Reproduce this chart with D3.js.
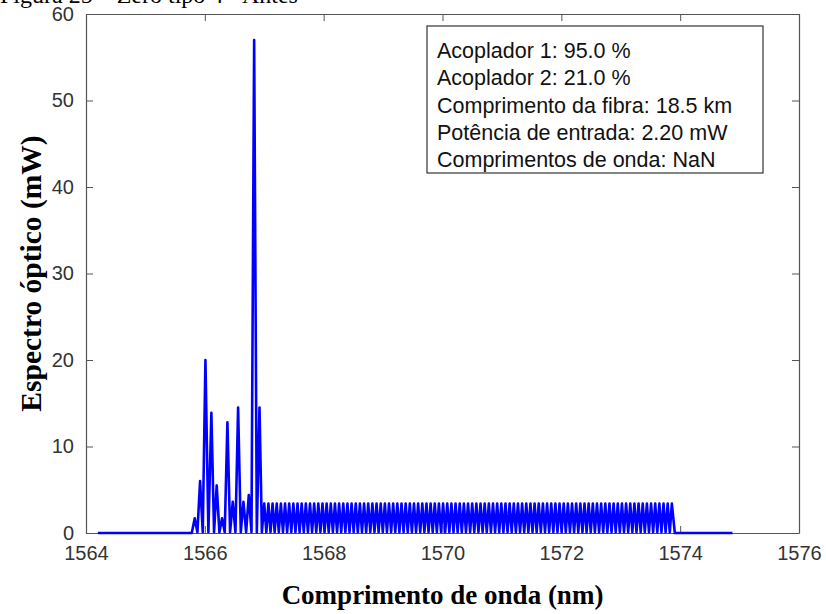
<!DOCTYPE html>
<html>
<head>
<meta charset="utf-8">
<script src="https://cdn.jsdelivr.net/npm/d3@7"></script>
<style>
  html, body { margin: 0; padding: 0; background: #fff; }
  svg { display: block; }
</style>
</head>
<body>
<svg id="chart" width="826" height="614"></svg>
<script>
// Axis ticks
const xTicks = [1564, 1566, 1568, 1570, 1572, 1574, 1576];
const yTicks = [0, 10, 20, 30, 40, 50, 60];

// Flat baseline ends of the spectrum (nm)
const baseStartWl = 1564.2;
const baseEndWl = 1574.88;
const baseMw = 0;

// Strong lines around the pump region
const clusterWl = [1565.83, 1565.92, 1566.01, 1566.11, 1566.20, 1566.29, 1566.38,
                   1566.47, 1566.56, 1566.65, 1566.74, 1566.83, 1566.92];
const clusterMw = [1.7, 6.0, 20.0, 13.9, 5.5, 1.7, 12.8, 3.6, 14.5, 3.6, 4.4, 57.0, 14.5];

// Flat comb of lines up to ~1573.9 nm
const combWl = [
  1567.00, 1567.07, 1567.14, 1567.21, 1567.28, 1567.35, 1567.42, 1567.49, 1567.56, 1567.63,
  1567.70, 1567.77, 1567.84, 1567.91, 1567.98, 1568.05, 1568.12, 1568.19, 1568.26, 1568.33,
  1568.40, 1568.47, 1568.54, 1568.61, 1568.68, 1568.75, 1568.82, 1568.89, 1568.96, 1569.03,
  1569.10, 1569.17, 1569.24, 1569.31, 1569.38, 1569.45, 1569.52, 1569.59, 1569.66, 1569.73,
  1569.80, 1569.87, 1569.94, 1570.01, 1570.08, 1570.15, 1570.22, 1570.29, 1570.36, 1570.43,
  1570.50, 1570.57, 1570.64, 1570.71, 1570.78, 1570.85, 1570.92, 1570.99, 1571.06, 1571.13,
  1571.20, 1571.27, 1571.34, 1571.41, 1571.48, 1571.55, 1571.62, 1571.69, 1571.76, 1571.83,
  1571.90, 1571.97, 1572.04, 1572.11, 1572.18, 1572.25, 1572.32, 1572.39, 1572.46, 1572.53,
  1572.60, 1572.67, 1572.74, 1572.81, 1572.88, 1572.95, 1573.02, 1573.09, 1573.16, 1573.23,
  1573.30, 1573.37, 1573.44, 1573.51, 1573.58, 1573.65, 1573.72, 1573.79, 1573.86
];
const combMw = 3.4;
const troughMw = 0.1;

// Parameter box text
const infoLines = [
  "Acoplador 1: 95.0 %",
  "Acoplador 2: 21.0 %",
  "Comprimento da fibra: 18.5 km",
  "Potência de entrada: 2.20 mW",
  "Comprimentos de onda: NaN"
];

// Build the trace: baseline, each line with a trough between neighbours, baseline
const lines = clusterWl.map((w, i) => ({ wl: w, mw: clusterMw[i] }))
  .concat(combWl.map(w => ({ wl: w, mw: combMw })));
const trace = [{ wl: baseStartWl, mw: baseMw }];
trace.push({ wl: lines[0].wl - 0.05, mw: baseMw });
lines.forEach((p, i) => {
  if (i > 0) {
    const prev = lines[i - 1];
    trace.push({ wl: (prev.wl + p.wl) / 2, mw: troughMw });
  }
  trace.push(p);
});
trace.push({ wl: lines[lines.length - 1].wl + 0.05, mw: baseMw });
trace.push({ wl: baseEndWl, mw: baseMw });

const svg = d3.select("#chart");
const L = 86, R = 799, T = 14, B = 533;

const x = d3.scaleLinear().domain([1564, 1576]).range([L, R]);
const y = d3.scaleLinear().domain([0, 60]).range([B, T]);

const axisColor = "#555";
const tickFont = "'Liberation Sans', Arial, sans-serif";
const serif = "'Liberation Serif', 'Times New Roman', serif";

// Caption line running off the top edge
svg.append("text")
  .attr("x", 0).attr("y", 3)
  .attr("font-family", serif)
  .attr("font-size", 24)
  .attr("fill", "#000")
  .text("Figura 25 – Zero tipo 4 - Antes");

// Bottom axis
const gx = svg.append("g").attr("transform", `translate(0,${B})`)
  .call(d3.axisBottom(x).tickValues(xTicks).tickFormat(d3.format("d"))
    .tickSizeInner(-7).tickSizeOuter(0).tickPadding(13));
// Top axis (ticks only)
const gxt = svg.append("g").attr("transform", `translate(0,${T})`)
  .call(d3.axisTop(x).tickValues(xTicks).tickFormat("")
    .tickSizeInner(-7).tickSizeOuter(0));
// Left axis
const gy = svg.append("g").attr("transform", `translate(${L},0)`)
  .call(d3.axisLeft(y).tickValues(yTicks).tickFormat(d3.format("d"))
    .tickSizeInner(-7).tickSizeOuter(0).tickPadding(12));
// Right axis (ticks only)
const gyr = svg.append("g").attr("transform", `translate(${R},0)`)
  .call(d3.axisRight(y).tickValues(yTicks).tickFormat("")
    .tickSizeInner(-7).tickSizeOuter(0));

[gx, gxt, gy, gyr].forEach(g => {
  g.select(".domain").attr("stroke", axisColor).attr("stroke-width", 1.2);
  g.selectAll(".tick line").attr("stroke", axisColor).attr("stroke-width", 1);
  g.selectAll(".tick text")
    .attr("font-family", tickFont)
    .attr("font-size", 20)
    .attr("fill", "#333");
});

// Spectrum trace
const line = d3.line().x(d => x(d.wl)).y(d => y(d.mw));
svg.append("path")
  .datum(trace)
  .attr("d", line)
  .attr("fill", "none")
  .attr("stroke", "#0000ff")
  .attr("stroke-width", 2.6)
  .attr("stroke-linejoin", "round");

// Parameter box
const boxX = 427, boxY = 26, boxW = 336, boxH = 147;
svg.append("rect")
  .attr("x", boxX).attr("y", boxY)
  .attr("width", boxW).attr("height", boxH)
  .attr("fill", "#fff")
  .attr("stroke", "#333").attr("stroke-width", 1.2);
svg.append("g").selectAll("text")
  .data(infoLines)
  .join("text")
  .attr("x", boxX + 10)
  .attr("y", (d, i) => boxY + 32 + i * 27.3)
  .attr("font-family", tickFont)
  .attr("font-size", 21.5)
  .attr("fill", "#111")
  .text(d => d);

// Axis titles
svg.append("text")
  .attr("x", (L + R) / 2).attr("y", 604)
  .attr("text-anchor", "middle")
  .attr("font-family", serif)
  .attr("font-weight", "bold")
  .attr("font-size", 27)
  .attr("fill", "#000")
  .text("Comprimento de onda (nm)");

svg.append("text")
  .attr("transform", `translate(41,${(T + B) / 2}) rotate(-90)`)
  .attr("text-anchor", "middle")
  .attr("font-family", serif)
  .attr("font-weight", "bold")
  .attr("font-size", 29.5)
  .attr("fill", "#000")
  .text("Espectro óptico (mW)");
</script>
</body>
</html>
